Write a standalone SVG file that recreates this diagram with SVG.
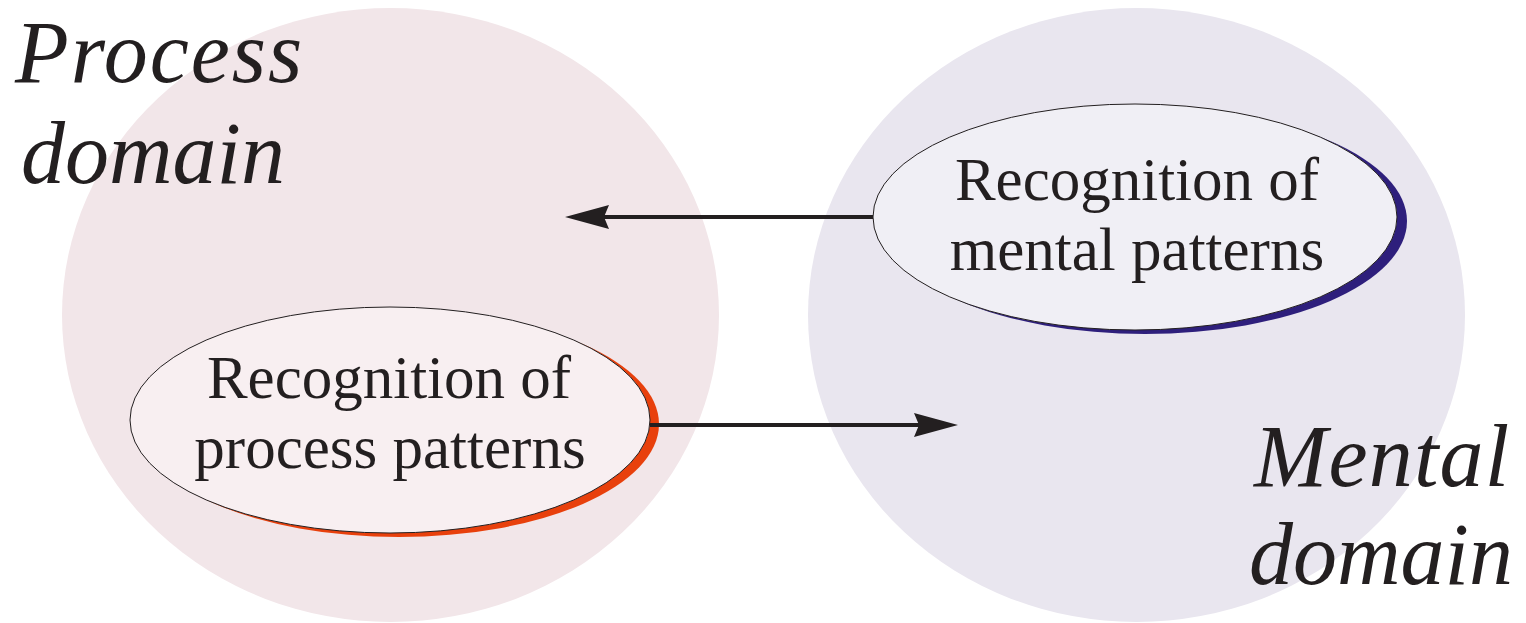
<svg xmlns="http://www.w3.org/2000/svg" width="1526" height="623" viewBox="0 0 1526 623">
<style>
.domain{font-family:"Liberation Serif",serif;font-style:italic;font-size:88px;fill:#231f20}
.lbl{font-family:"Liberation Serif",serif;font-size:61px;fill:#231f20;text-anchor:middle}
.conn{stroke:#231f20;stroke-width:4;fill:none}
.head{fill:#231f20}
</style>
<rect width="1526" height="623" fill="#ffffff"/>
<g id="process-domain">
<ellipse cx="390.5" cy="315" rx="328.5" ry="307" fill="#f2e6e9"/>
</g>
<g id="mental-domain">
<ellipse cx="1136.5" cy="315" rx="328.5" ry="307" fill="#e9e6ef"/>
</g>
<g id="process-domain-label">
<text class="domain" x="15" y="82" letter-spacing="2">Process</text>
<text class="domain" x="21" y="183">domain</text>
</g>
<g id="mental-domain-label">
<text class="domain" x="1254" y="486" letter-spacing="1.2">Mental</text>
<text class="domain" x="1249" y="584">domain</text>
</g>
<g id="process-patterns">
<ellipse cx="399" cy="424" rx="260" ry="113" fill="#e8400c"/>
<ellipse cx="390" cy="420" rx="260" ry="113" fill="#f8eff1" stroke="#231f20" stroke-width="1"/>
<text class="lbl" x="389" y="398">Recognition of</text>
<text class="lbl" x="390" y="468">process patterns</text>
</g>
<g id="mental-patterns">
<ellipse cx="1145" cy="221" rx="262" ry="113" fill="#2e1f7c"/>
<ellipse cx="1135" cy="217" rx="262" ry="113" fill="#f0eff5" stroke="#231f20" stroke-width="1"/>
<text class="lbl" x="1137" y="200">Recognition of</text>
<text class="lbl" x="1137" y="270">mental patterns</text>
</g>
<g id="connectors">
<line class="conn" x1="873" y1="217" x2="600" y2="217"/>
<polygon class="head" points="565,217 609,205 604,217 609,229"/>
<line class="conn" x1="650" y1="425" x2="920" y2="425"/>
<polygon class="head" points="958,425 914,413 919,425 914,437"/>
</g>
</svg>
